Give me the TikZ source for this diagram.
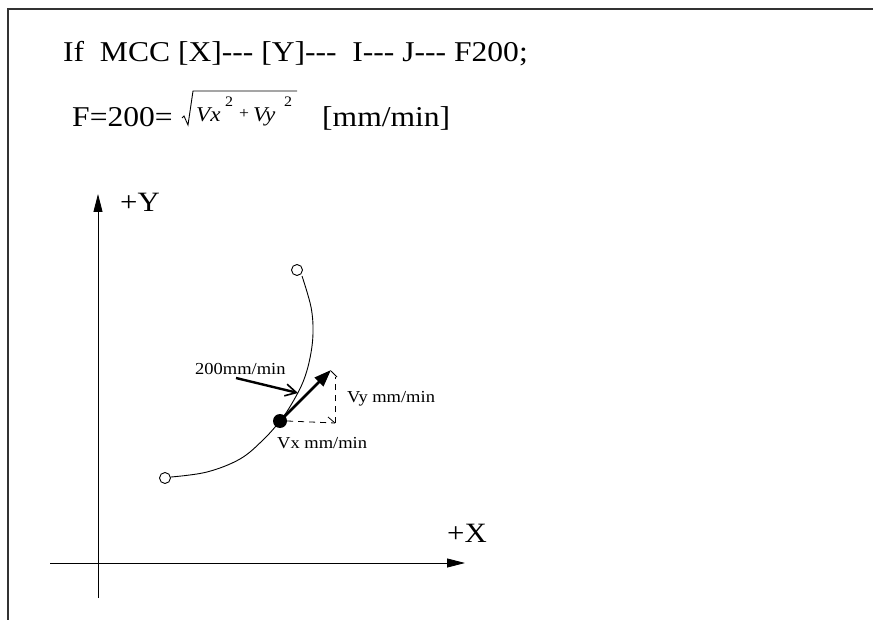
\documentclass[tikz,border=0pt]{standalone}
\usepackage{fontspec}
\setmainfont{Liberation Serif}[FakeStretch=1.1]
\usetikzlibrary{arrows.meta}
\newcommand{\tridash}{-{}-{}-}
\tikzset{
  frame/.style={draw=black!80,line width=1.4pt},
  big/.style={font=\fontsize{28.7}{32}\selectfont,inner sep=0pt,anchor=base west},
  axlbl/.style={font=\fontsize{28}{30}\selectfont,inner sep=0pt,anchor=base west},
  small/.style={font=\fontsize{16.8}{18}\selectfont,inner sep=0pt,anchor=base west},
  ital/.style={font=\fontsize{21}{22}\selectfont\itshape,inner sep=0pt,anchor=base west},
  sup/.style={font=\fontsize{14.5}{16}\selectfont,inner sep=0pt,anchor=base west},
  plus/.style={font=\fontsize{16}{16}\selectfont,inner sep=0pt,anchor=base west},
  axis/.style={line width=0.9pt,-{Triangle[length=18pt,width=9pt]}},
  curve/.style={line width=0.9pt},
  endpt/.style={circle,draw,fill=white,line width=0.9pt,minimum size=11pt,inner sep=0pt},
  dotpt/.style={circle,fill=black,minimum size=14pt,inner sep=0pt},
  vel/.style={line width=2.6pt,-{Triangle[length=17pt,width=12pt]}},
  ptr/.style={line width=2.4pt,-{Straight Barb[length=11pt,width=12pt,line width=1.6pt]}},
  dsh/.style={line width=0.8pt,dash pattern=on 6pt off 5pt},
}
\begin{document}
\begin{tikzpicture}[x=1pt,y=-1pt]
\useasboundingbox (0,0) rectangle (873,620);
\fill[white] (0,0) rectangle (873,620);
\draw[frame] (8,620) -- (8,9) -- (873,9);

% header text
\node[big] (l1) at (63,62) {If\ \ MCC [X]\tridash{} [Y]\tridash\ \ I\tridash{} J\tridash{} F200;};
\node[big] (l2) at (72,127) {F=200=};
\draw[line width=0.9pt,line join=miter] (182,118) -- (184,116) -- (188,125) -- (193,91) -- (297,91);
\node[ital] (vx) at (196,122) {Vx};
\node[sup] (s1) at (225,107) {2};
\node[plus] (pl) at (239,119) {+};
\node[ital] (vy) at (253,122) {Vy};
\node[sup] (s2) at (284,107) {2};
\node[big] (unit) at (322,127) {[mm/min]};

% axes
\coordinate (yb) at (98,598);
\coordinate (yt) at (98,194);
\coordinate (xl) at (50,563);
\coordinate (xr) at (465,563);
\draw[axis] (yb) -- (yt);
\draw[axis] (xl) -- (xr);
\node[axlbl] (ylab) at (120,212) {+Y};
\node[axlbl] (xlab) at (447,542) {+X};

% arc
\node[endpt] (p1) at (165,478) {};
\node[endpt] (p2) at (297,270) {};
\draw[curve] plot[smooth,tension=0.6] coordinates {(171,477) (207,472) (240,459) (263,440) (280,421) (291,405) (303,382) (310,358) (313,333) (311,307) (302,276)};
\node[dotpt] (d) at (280,421) {};

% velocity components
\coordinate (tip) at (331,370);
\coordinate (cx) at (335,423);
\coordinate (cy) at (335,377);
\draw[dsh] (d.east) -- (cx);
\draw[dsh] (cx) -- (cy);
\draw[line width=0.8pt] (328,417) -- (335,423);
\draw[line width=0.8pt] (331,371) -- (337,377);
\draw[vel] (d.center) -- (tip);

% labels
\node[small] (f) at (195,374) {200mm/min};
\coordinate (fa) at (236,378);
\coordinate (fb) at (298,393);
\draw[ptr] (fa) -- (fb);
\node[small] (vyl) at (347,402) {Vy mm/min};
\node[small] (vxl) at (277,448) {Vx mm/min};
\end{tikzpicture}
\end{document}
